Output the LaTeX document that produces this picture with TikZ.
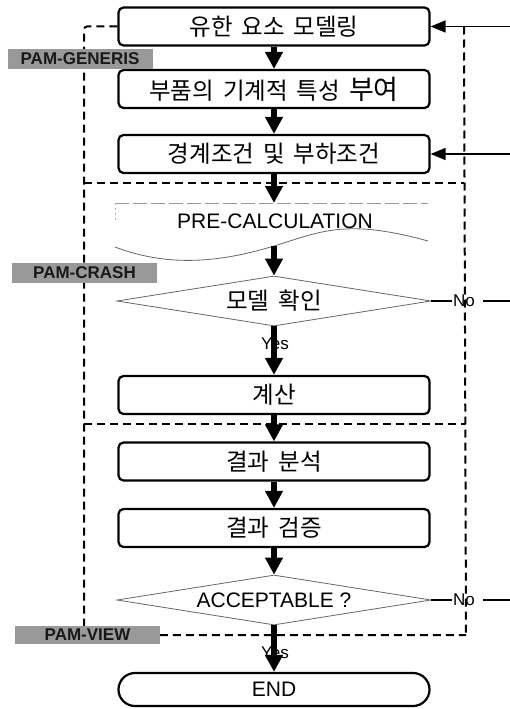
\documentclass[tikz,border=0pt]{standalone}
\usepackage{fontspec}
\setmainfont{Liberation Sans}
\newfontfamily\kr[WordSpace=1.7]{Noto Sans CJK KR}
\usetikzlibrary{arrows.meta,shapes.geometric,shapes.misc}
\begin{document}
\begin{tikzpicture}[x=1pt,y=-1pt,
  stepbox/.style={draw, line width=2.2pt, rounded corners=5pt, minimum width=311pt, minimum height=38pt, inner sep=0pt, font=\kr\fontsize{23.5}{27}\selectfont},
  endbox/.style={draw, rounded rectangle, line width=2.2pt, minimum width=311pt, minimum height=33pt, inner sep=0pt, font=\fontsize{21}{25}\selectfont},
  decision/.style={diamond, draw=black!60, line width=0.8pt, aspect=6.3, minimum width=314pt, minimum height=50pt, inner sep=0pt, font=\fontsize{21}{25}\selectfont},
  flow/.style={-{Triangle[length=17pt,width=17pt]}, line width=5.5pt},
  region/.style={dash pattern=on 8pt off 5pt, line width=2pt, rounded corners=3pt},
  feed/.style={-{Triangle[length=15pt,width=12pt]}, line width=1.5pt},
  pamlabel/.style={fill=black!40, text=black!90, font=\bfseries\fontsize{17}{20}\selectfont, minimum width=145pt, minimum height=20pt, inner sep=0pt},
  answer/.style={font=\fontsize{17}{20}\selectfont, inner sep=1pt},
  noline/.style={line width=1.5pt}
]
\useasboundingbox (0,0) rectangle (510,709);

% process steps
\node[stepbox] (b1) at (274,26.5) {유한~요소~모델링};
\node[stepbox] (b2) at (274,89) {부품의~기계적~특성~{\fontsize{27}{29}\selectfont 부여}};
\node[stepbox] (b3) at (274,154) {경계조건~및~부하조건};

% pre-calculation shape
\draw[black!40, line width=0.8pt, dash pattern=on 14pt off 4pt] (115,203) -- (428,203);
\draw[black!30, line width=0.6pt, dash pattern=on 2pt off 3pt] (115,203) -- (115,220);
\draw[black!60, line width=0.8pt] (115,247) .. controls (165,266) and (215,264) .. (274,246) .. controls (320,232) and (345,218) .. (428,241);
\node[font=\fontsize{21}{25}\selectfont] (pc) at (275,221) {PRE-CALCULATION};
\coordinate (pctop) at (274,203);
\coordinate (pcbot) at (274,246);

\node[decision] (d1) at (274,301) {\kr\fontsize{23.5}{27}\selectfont 모델~확인};
\node[stepbox] (b4) at (274,395) {계산};
\node[stepbox] (b5) at (274,461.5) {결과~분석};
\node[stepbox] (b6) at (274,528) {결과~검증};
\node[decision] (d2) at (274,600) {ACCEPTABLE ?};
\node[endbox] (e) at (274,689.5) {END};

% dashed tool regions
\coordinate (lt) at (84,26.5);
\coordinate (lb) at (84,635);
\coordinate (rt) at (464,26.5);
\coordinate (rb) at (466,635);
\coordinate (m1l) at (84,183);
\coordinate (m1r) at (464,183);
\coordinate (m2l) at (84,424);
\coordinate (m2r) at (465,424);
\draw[region] (b1.west) -- (lt) -- (lb) -- (rb);
\draw[region] (rt) -- (rb);
\draw[region] (m1l) -- (m1r);
\draw[region] (m2l) -- (m2r);

% labels
\node[pamlabel] (gen) at (80,59) {PAM-GENERIS};
\node[pamlabel] (crash) at (84.5,273) {PAM-CRASH};
\node[pamlabel, minimum height=18pt] (view) at (87.5,635) {PAM-VIEW};

% yes / no
\node[answer] (yes1) at (275,344) {Yes};
\node[answer] (yes2) at (275,653) {Yes};
\node[answer] (no1) at (464,301) {No};
\node[answer] (no2) at (464,600) {No};
\coordinate (out1) at (510,301);
\coordinate (out2) at (510,600);
\draw[noline] (d1.east) -- (no1.west);
\draw[noline, shorten <=7pt] (no1.east) -- (out1);
\draw[noline] (d2.east) -- (no2.west);
\draw[noline, shorten <=7pt] (no2.east) -- (out2);

% feedback arrows
\coordinate (in1) at (510,26.5);
\coordinate (in2) at (510,154);
\draw[feed] (in1) -- (b1.east);
\draw[feed] (in2) -- (b3.east);

% main flow
\draw[flow] (b1.south) -- (b2.north);
\draw[flow] (b2.south) -- (b3.north);
\draw[flow] (b3.south) -- (pctop);
\draw[flow] (pcbot) -- (d1.north);
\draw[flow] (d1.south) -- (b4.north);
\draw[flow] (b4.south) -- (b5.north);
\draw[flow] (b5.south) -- (b6.north);
\draw[flow] (b6.south) -- (d2.north);
\draw[flow] (d2.south) -- (e.north);
\end{tikzpicture}
\end{document}
